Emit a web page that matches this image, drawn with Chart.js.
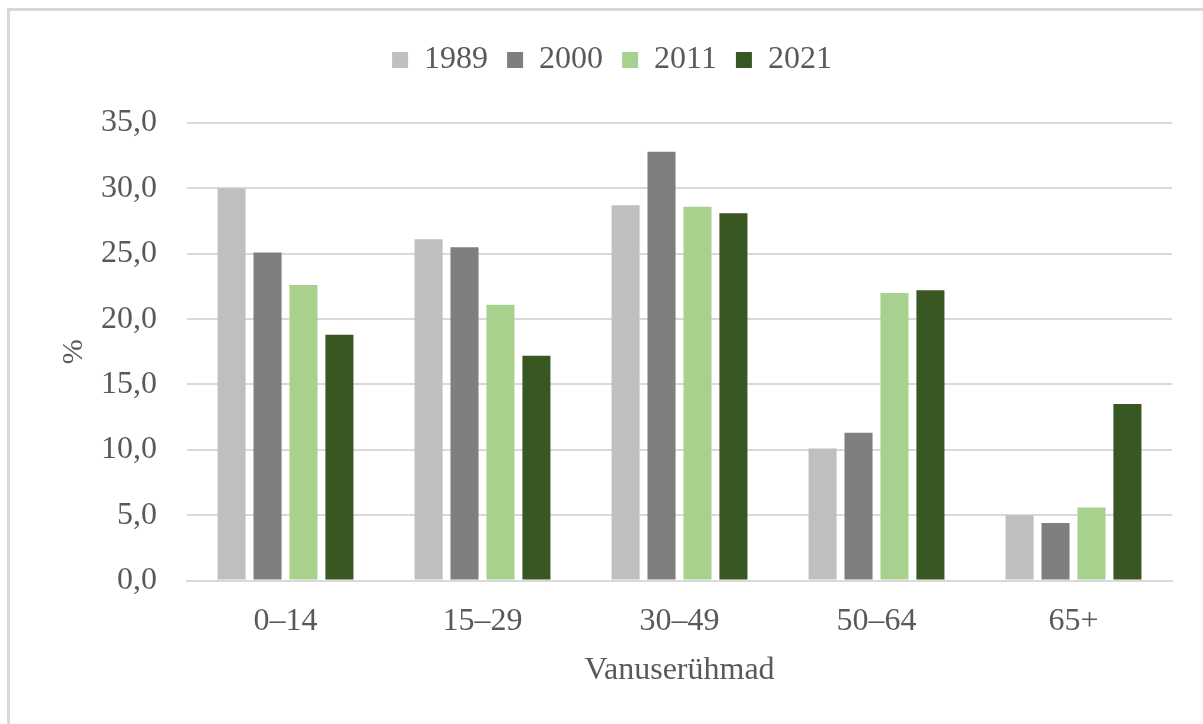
<!DOCTYPE html>
<html>
<head>
<meta charset="utf-8">
<script src="https://cdn.jsdelivr.net/npm/chart.js@4/dist/chart.umd.min.js"></script>
<style>
  html, body { margin: 0; padding: 0; background: #fff; }
  #wrap { position: relative; width: 1203px; height: 724px; overflow: hidden; }
  #frame {
    position: absolute; left: 7px; top: 8px; width: 1300px; height: 800px;
    border-left: 3px solid #d9d9d9; border-top: 3px solid #d9d9d9;
    box-sizing: border-box; pointer-events: none;
  }
  canvas { position: absolute; left: 0; top: 0; }
</style>
</head>
<body>
<div id="wrap">
  <canvas id="chart" width="1203" height="724"></canvas>
  <div id="frame"></div>
</div>
<script>
const vanuseryhmad = ["0–14", "15–29", "30–49", "50–64", "65+"];
const aastad = ["1989", "2000", "2011", "2021"];
const v1989 = [30.0, 26.1, 28.7, 10.1, 5.0];
const v2000 = [25.1, 25.5, 32.8, 11.3, 4.4];
const v2011 = [22.6, 21.1, 28.6, 22.0, 5.6];
const v2021 = [18.8, 17.2, 28.1, 22.2, 13.5];
const yTicks = [0, 5, 10, 15, 20, 25, 30, 35];

const varvid = ["#bfbfbf", "#7f7f7f", "#a9d18e", "#385723"];
const seeriad = [v1989, v2000, v2011, v2021];

const serif = "'Liberation Serif', 'Times New Roman', serif";
const tekstiVarv = "#595959";

// legendi alla veidi rohkem ruumi
const legendiVahe = {
  id: "legendiVahe",
  beforeInit(chart) {
    const fit = chart.legend.fit;
    chart.legend.fit = function () {
      fit.bind(chart.legend)();
      this.height += 37;
    };
  },
};

document.addEventListener("DOMContentLoaded", () => {
  const ctx = document.getElementById("chart");

  new Chart(ctx, {
    type: "bar",
    data: {
      labels: vanuseryhmad,
      datasets: aastad.map((aasta, i) => ({
        label: aasta,
        data: seeriad[i],
        backgroundColor: varvid[i],
        borderWidth: 0,
        categoryPercentage: 0.73,
        barPercentage: 0.78,
      })),
    },
    options: {
      responsive: false,
      animation: false,
      layout: {
        padding: { top: 25, left: 52, right: 31, bottom: 33 },
      },
      plugins: {
        legend: {
          position: "top",
          labels: {
            font: { family: serif, size: 32 },
            color: tekstiVarv,
            boxWidth: 16,
            boxHeight: 16,
            padding: 19,
          },
        },
        tooltip: { enabled: false },
      },
      scales: {
        x: {
          grid: { display: false },
          border: { color: "#d9d9d9", width: 2 },
          ticks: {
            font: { family: serif, size: 32 },
            color: tekstiVarv,
            padding: 14,
          },
          title: {
            display: true,
            text: "Vanuserühmad",
            font: { family: serif, size: 32, lineHeight: 1.0 },
            color: tekstiVarv,
            padding: { top: 0 },
          },
        },
        y: {
          min: 0,
          max: 35,
          afterBuildTicks: (axis) => {
            axis.ticks = yTicks.map((v) => ({ value: v }));
          },
          grid: { color: "#d9d9d9", lineWidth: 2, drawTicks: false },
          border: { display: false },
          ticks: {
            font: { family: serif, size: 32 },
            color: tekstiVarv,
            padding: 30,
            callback: (v) => v.toFixed(1).replace(".", ","),
          },
          title: {
            display: true,
            text: "%",
            font: { family: serif, size: 30 },
            color: tekstiVarv,
            padding: { bottom: 4 },
          },
          afterFit: (axis) => {
            axis.width = 135;
          },
        },
      },
    },
    plugins: [legendiVahe],
  });
});
</script>
</body>
</html>
